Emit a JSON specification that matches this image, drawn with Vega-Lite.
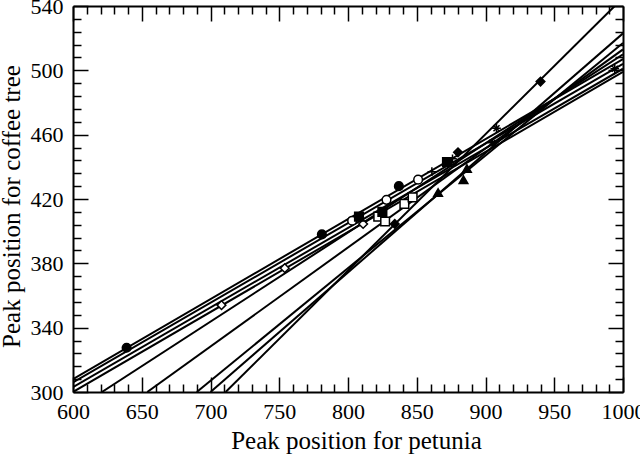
{
  "$schema": "https://vega.github.io/schema/vega-lite/v6.json",
  "width": 550,
  "height": 386,
  "autosize": "none",
  "padding": {"left": 73, "top": 6, "right": 17, "bottom": 65},
  "background": "white",
  "config": {
    "view": {"stroke": null},
    "axis": {
      "labelFont": "Liberation Serif", "labelFontSize": 22, "labelColor": "black", "labelFlush": false,
      "titleFont": "Liberation Serif", "titleFontSize": 24, "titleFontWeight": "normal", "titleColor": "black",
      "domainColor": "black", "domainWidth": 2, "tickColor": "black", "tickWidth": 1.5, "grid": false
    }
  },
  "datasets": {
    "lines": [
      {"line": "L1", "x": 711, "y": 300}, {"line": "L1", "x": 994, "y": 540},
      {"line": "L2", "x": 700, "y": 300}, {"line": "L2", "x": 1000, "y": 523},
      {"line": "L3", "x": 690, "y": 300}, {"line": "L3", "x": 1000, "y": 517},
      {"line": "L4", "x": 654, "y": 300}, {"line": "L4", "x": 1000, "y": 513},
      {"line": "L5", "x": 621, "y": 300}, {"line": "L5", "x": 1000, "y": 510},
      {"line": "L6", "x": 600, "y": 308}, {"line": "L6", "x": 1000, "y": 507},
      {"line": "L7", "x": 600, "y": 306}, {"line": "L7", "x": 1000, "y": 504},
      {"line": "L8", "x": 600, "y": 303}, {"line": "L8", "x": 1000, "y": 501},
      {"line": "L9", "x": 600, "y": 300}, {"line": "L9", "x": 1000, "y": 499}
    ],
    "points": [
      {"s": "fc", "x": 639, "y": 327.5}, {"s": "fc", "x": 781, "y": 398}, {"s": "fc", "x": 837, "y": 428},
      {"s": "od", "x": 708, "y": 354}, {"s": "od", "x": 754, "y": 377}, {"s": "od", "x": 811, "y": 404.5},
      {"s": "oc", "x": 803, "y": 406.5}, {"s": "oc", "x": 828, "y": 419.5}, {"s": "oc", "x": 851, "y": 432},
      {"s": "fd", "x": 834, "y": 404.5}, {"s": "fd", "x": 880, "y": 449}, {"s": "fd", "x": 940, "y": 493},
      {"s": "os", "x": 822, "y": 409}, {"s": "os", "x": 827, "y": 406}, {"s": "os", "x": 841, "y": 417}, {"s": "os", "x": 847, "y": 421},
      {"s": "fs", "x": 808, "y": 409}, {"s": "fs", "x": 825, "y": 412}, {"s": "fs", "x": 872, "y": 443},
      {"s": "tri", "x": 865.5, "y": 424}, {"s": "tri", "x": 884, "y": 432}, {"s": "tri", "x": 886.5, "y": 439},
      {"s": "plus", "x": 861, "y": 437}, {"s": "plus", "x": 876, "y": 445},
      {"s": "star", "x": 905, "y": 455}, {"s": "star", "x": 908, "y": 464}, {"s": "star", "x": 994, "y": 501}
    ]
  },
  "resolve": {"axis": {"x": "independent", "y": "independent"}},
  "layer": [
    {
      "data": {"name": "lines"},
      "mark": {"type": "line", "color": "black", "strokeWidth": 2, "clip": true},
      "encoding": {
        "x": {"field": "x", "type": "quantitative", "scale": {"domain": [600, 1000], "nice": false, "zero": false},
              "axis": {"orient": "bottom", "values": [600, 650, 700, 750, 800, 850, 900, 950, 1000], "format": "d", "tickSize": -15, "labelPadding": 24, "title": "Peak position for petunia", "titlePadding": 6, "titleFontSize": 25, "titleX": 283}},
        "y": {"field": "y", "type": "quantitative", "scale": {"domain": [300, 540], "nice": false, "zero": false},
              "axis": {"orient": "left", "values": [300, 340, 380, 420, 460, 500, 540], "format": "d", "tickSize": -15, "labelPadding": 25, "title": "Peak position for coffee tree", "titlePadding": 6, "titleFontSize": 25, "titleY": 200}},
        "detail": {"field": "line"}
      }
    },
    {
      "data": {"name": "points"},
      "mark": {"type": "point", "filled": false, "stroke": "black", "strokeWidth": 1.5, "size": 75, "opacity": 1},
      "encoding": {
        "x": {"field": "x", "type": "quantitative",
              "axis": {"orient": "bottom", "values": [610,620,630,640,660,670,680,690,710,720,730,740,760,770,780,790,810,820,830,840,860,870,880,890,910,920,930,940,960,970,980,990], "tickSize": -8, "labels": false, "domain": false, "title": null}},
        "y": {"field": "y", "type": "quantitative",
              "axis": {"orient": "left", "values": [308,316,324,332,348,356,364,372,388,396,404,412,428,436,444,452,468,476,484,492,508,516,524,532], "tickSize": -8, "labels": false, "domain": false, "title": null}},
        "shape": {"field": "s", "type": "nominal", "legend": null,
                  "scale": {"domain": ["fc", "oc", "od", "fd", "os", "fs", "tri", "plus", "star"],
                            "range": ["circle", "circle", "diamond", "diamond", "square", "square", "triangle-up", "M-1,0L1,0M0,-1L0,1", "M-1,0L1,0M0,-1L0,1M-0.7,-0.7L0.7,0.7M-0.7,0.7L0.7,-0.7"]}},
        "fill": {"field": "s", "type": "nominal", "legend": null,
                 "scale": {"domain": ["fc", "oc", "od", "fd", "os", "fs", "tri", "plus", "star"],
                           "range": ["black", "white", "white", "black", "white", "black", "black", "white", "white"]}}
      }
    },
    {
      "data": {"name": "lines"},
      "mark": {"type": "line", "opacity": 0},
      "encoding": {
        "x": {"field": "x", "type": "quantitative",
              "axis": {"orient": "top", "values": [600, 650, 700, 750, 800, 850, 900, 950, 1000], "tickSize": -15, "labels": false, "title": null}},
        "y": {"field": "y", "type": "quantitative",
              "axis": {"orient": "right", "values": [300, 340, 380, 420, 460, 500, 540], "tickSize": -15, "labels": false, "title": null}},
        "detail": {"field": "line"}
      }
    },
    {
      "data": {"name": "lines"},
      "mark": {"type": "line", "opacity": 0},
      "encoding": {
        "x": {"field": "x", "type": "quantitative",
              "axis": {"orient": "top", "values": [610,620,630,640,660,670,680,690,710,720,730,740,760,770,780,790,810,820,830,840,860,870,880,890,910,920,930,940,960,970,980,990], "tickSize": -8, "labels": false, "domain": false, "title": null}},
        "y": {"field": "y", "type": "quantitative",
              "axis": {"orient": "right", "values": [308,316,324,332,348,356,364,372,388,396,404,412,428,436,444,452,468,476,484,492,508,516,524,532], "tickSize": -8, "labels": false, "domain": false, "title": null}},
        "detail": {"field": "line"}
      }
    }
  ]
}
